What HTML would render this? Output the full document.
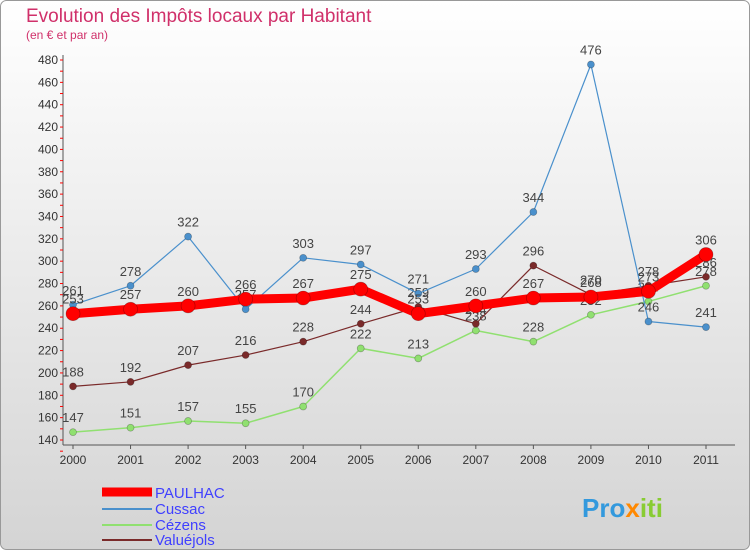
<!DOCTYPE html>
<html><head><meta charset="utf-8"><style>
body{margin:0;width:750px;height:550px;font-family:"Liberation Sans",sans-serif;}
</style></head><body>
<svg width="750" height="550" xmlns="http://www.w3.org/2000/svg">
<defs><linearGradient id="bg" x1="0" y1="0" x2="0" y2="1"><stop offset="0" stop-color="#ffffff"/><stop offset="1" stop-color="#d4d4d4"/></linearGradient></defs>
<rect x="0.5" y="0.5" width="749" height="549" rx="6" fill="url(#bg)" stroke="#999"/>
<text x="26" y="22" font-size="19" fill="#d0306a">Evolution des Impôts locaux par Habitant</text>
<text x="26" y="39" font-size="12" fill="#d0306a">(en € et par an)</text>
<g id="axes"></g><g id="series"></g>
<g>
<line x1="102" y1="492" x2="152" y2="492" stroke="#ff0000" stroke-width="9"/>
<text x="155" y="498" font-size="15" fill="#4040ff">PAULHAC</text>
<line x1="102" y1="509" x2="152" y2="509" stroke="#4a90cc" stroke-width="2"/>
<text x="155" y="514" font-size="15" fill="#4040ff">Cussac</text>
<line x1="102" y1="525" x2="152" y2="525" stroke="#90e070" stroke-width="2"/>
<text x="155" y="530" font-size="15" fill="#4040ff">Cézens</text>
<line x1="102" y1="540" x2="152" y2="540" stroke="#7a2a2a" stroke-width="2"/>
<text x="155" y="545" font-size="15" fill="#4040ff">Valuéjols</text>
</g>
<text x="582" y="517" font-size="26" font-weight="bold" fill="#3399dd">Pro<tspan fill="#ff8800">x</tspan><tspan fill="#88cc33">iti</tspan></text>
</svg>
<script>
const years=["2000","2001","2002","2003","2004","2005","2006","2007","2008","2009","2010","2011"];
const yTicks=[140,160,180,200,220,240,260,280,300,320,340,360,380,400,420,440,460,480];
const paulhac=[253,257,260,266,267,275,253,260,267,268,273,306];
const cussac=[261,278,322,257,303,297,271,293,344,476,246,241];
const cezens=[147,151,157,155,170,222,213,238,228,252,264,278];
const valuejols=[188,192,207,216,228,244,259,244,296,270,278,286];
const NS="http://www.w3.org/2000/svg";
const X=i=>73+i*(706-73)/11;
const Y=v=>440-(v-140)*380/340;
function mk(t,a,p){const e=document.createElementNS(NS,t);for(const k in a)e.setAttribute(k,a[k]);p.appendChild(e);return e;}
const ax=document.getElementById('axes');
mk('line',{x1:63,y1:55,x2:63,y2:445,stroke:'#555'},ax);
mk('line',{x1:63,y1:445,x2:735,y2:445,stroke:'#555'},ax);
yTicks.forEach(v=>{
 const t=mk('text',{x:58,y:Y(v)+4,'font-size':12,'text-anchor':'end',fill:'#333'},ax);t.textContent=v;
 
 
 mk('line',{x1:60,y1:Y(v),x2:63,y2:Y(v),stroke:'#f00'},ax);
 mk('line',{x1:60,y1:Y(v)+(380/340)*10,x2:63,y2:Y(v)+(380/340)*10,stroke:'#f00'},ax);
});
years.forEach((y,i)=>{
 const t=mk('text',{x:X(i),y:464,'font-size':12,'text-anchor':'middle',fill:'#333'},ax);t.textContent=y;
 
 
 mk('line',{x1:X(i),y1:445,x2:X(i),y2:449,stroke:'#555'},ax);
});
const sg=document.getElementById('series');
function series(data,color,w,r,name){
 const g=mk('g',{},sg);
 
 
 const pl=mk('polyline',{points:data.map((v,i)=>X(i)+','+Y(v)).join(' '),fill:'none',stroke:color,'stroke-width':w,'stroke-linejoin':'round'},g);
 
 
 data.forEach((v,i)=>{
  const c=mk('circle',{cx:X(i),cy:Y(v),r:r,fill:color,stroke:'rgba(0,0,0,0.3)','stroke-width':0.7},g);
  
  
  const t=mk('text',{x:X(i),y:Y(v)-10,'font-size':13,'text-anchor':'middle',fill:'#444'},g);t.textContent=v;
  
  
 });
}
series(cezens,'#90e070',1.5,3.5,'cezens');
series(valuejols,'#7a2a2a',1.2,3.5,'valuejols');
series(cussac,'#4a90cc',1.2,3.5,'cussac');
series(paulhac,'#ff0000',9,7,'paulhac');
</script>
</body></html>
